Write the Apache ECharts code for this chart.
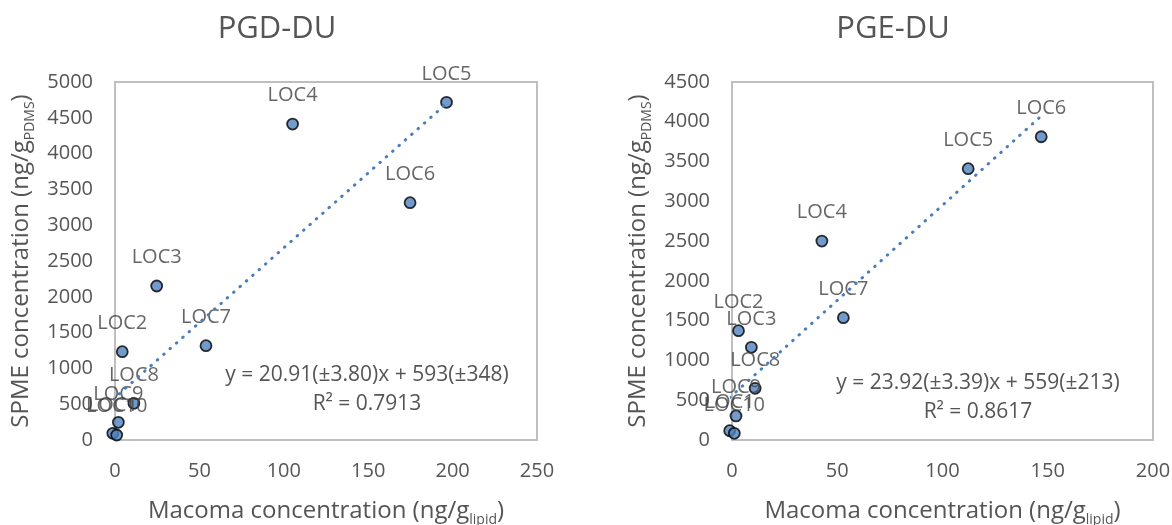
<!DOCTYPE html>
<html lang="en">
<head>
    <meta charset="UTF-8">
    <title>PGD-DU / PGE-DU</title>
    <script src="https://cdn.jsdelivr.net/npm/echarts@6/dist/echarts.min.js"></script>
    <style>
        html, body { margin: 0; padding: 0; background: #fff; }
        #chart { width: 1172px; height: 525px; }
    </style>
</head>
<body>
<div id="chart"></div>
<script type="text/javascript">
    // site labels, same order for both panels
    const locNames = ['LOC1', 'LOC2', 'LOC3', 'LOC4', 'LOC5', 'LOC6', 'LOC7', 'LOC8', 'LOC9', 'LOC10'];

    // PGD-DU: Macoma (x) vs SPME (y)
    const pgdMacoma = [-1.3, 4.3, 24.7, 105.2, 196.4, 174.8, 53.9, 11.2, 2.0, 1.0];
    const pgdSpme = [93, 1233, 2151, 4413, 4716, 3314, 1317, 512, 247, 70];
    const pgdFit = { slope: 20.91, intercept: 593 };
    const pgdEq = 'y = 20.91(±3.80)x + 593(±348)\nR² = 0.7913';

    // PGE-DU
    const pgeMacoma = [-1.1, 3.1, 9.2, 42.7, 112.2, 146.9, 52.9, 11.0, 1.9, 1.1];
    const pgeSpme = [117, 1374, 1165, 2501, 3410, 3812, 1537, 650, 302, 84];
    const pgeFit = { slope: 23.92, intercept: 559 };
    const pgeEq = 'y = 23.92(±3.39)x + 559(±213)\nR² = 0.8617';

    // axis ranges
    const pgdXMax = 250, pgdYMax = 5000;
    const pgeXMax = 200, pgeYMax = 4500;

    const FONT = '"Open Sans", "Noto Sans", sans-serif';
    const GREY = '#555555';

    let chart = echarts.init(document.getElementById('chart'));

    function points(xs, ys) {
        return xs.map((x, i) => ({ name: locNames[i], value: [x, ys[i]] }));
    }

    // trendline drawn between the smallest and largest x of the data
    function trend(xs, fit) {
        let lo = Math.min(...xs), hi = Math.max(...xs);
        return [[lo, fit.intercept + fit.slope * lo], [hi, fit.intercept + fit.slope * hi]];
    }

    const nameRich = {
        m: { fontFamily: FONT, fontSize: 24, color: GREY, lineHeight: 32 },
        s: { fontFamily: FONT, fontSize: 14, color: GREY, verticalAlign: 'bottom', lineHeight: 19 }
    };

    function xAxisFor(idx, max) {
        return {
            gridIndex: idx, type: 'value', min: 0, max: max, interval: 50,
            name: '{m|Macoma concentration (ng/g}{s|lipid}{m|)}',
            nameLocation: 'middle', nameGap: 55,
            nameTextStyle: { rich: nameRich },
            axisLine: { show: true, lineStyle: { color: '#bfbfbf', width: 2 } },
            axisTick: { show: false },
            splitLine: { show: false },
            axisLabel: { fontFamily: FONT, fontSize: 20, color: GREY, margin: 21, formatter: v => String(v) }
        };
    }

    function yAxisFor(idx, max) {
        return {
            gridIndex: idx, type: 'value', min: 0, max: max, interval: 500,
            name: '{m|SPME concentration (ng/g}{s|PDMS}{m|)}',
            nameLocation: 'middle', nameGap: 78, nameRotate: 90,
            nameTextStyle: { rich: nameRich },
            axisLine: { show: true, lineStyle: { color: '#bfbfbf', width: 2 } },
            axisTick: { show: false },
            splitLine: { show: false },
            axisLabel: { fontFamily: FONT, fontSize: 20, color: GREY, margin: 22, formatter: v => String(v) }
        };
    }

    function scatterFor(idx, xs, ys) {
        return {
            type: 'scatter', xAxisIndex: idx, yAxisIndex: idx, clip: false, z: 3,
            symbol: 'circle', symbolSize: 11,
            itemStyle: { color: '#4f81bd', borderColor: '#000', borderWidth: 1.8 },
            label: {
                show: true, position: 'top', distance: 12, formatter: '{b}',
                fontFamily: FONT, fontSize: 20, color: '#404040'
            },
            data: points(xs, ys)
        };
    }

    function trendFor(idx, xs, fit) {
        return {
            type: 'line', xAxisIndex: idx, yAxisIndex: idx, z: 4, clip: false,
            showSymbol: false, silent: true,
            lineStyle: { color: '#4a7ebb', width: 3, type: [0.5, 8], cap: 'round' },
            data: trend(xs, fit)
        };
    }

    let option = {
        animation: false,
        backgroundColor: '#fff',
        grid: [
            { left: 115, top: 82, width: 422, height: 358, outerBoundsMode: 'none', show: true, borderColor: '#bfbfbf', borderWidth: 2 },
            { left: 732, top: 82, width: 421, height: 358, outerBoundsMode: 'none', show: true, borderColor: '#bfbfbf', borderWidth: 2 }
        ],
        xAxis: [xAxisFor(0, pgdXMax), xAxisFor(1, pgeXMax)],
        yAxis: [yAxisFor(0, pgdYMax), yAxisFor(1, pgeYMax)],
        series: [
            trendFor(0, pgdMacoma, pgdFit),
            scatterFor(0, pgdMacoma, pgdSpme),
            trendFor(1, pgeMacoma, pgeFit),
            scatterFor(1, pgeMacoma, pgeSpme)
        ],
        graphic: [
            { type: 'text', x: 277, y: 29, style: { text: 'PGD-DU', font: '31px ' + FONT, fill: GREY, align: 'center', verticalAlign: 'middle' } },
            { type: 'text', x: 893, y: 29, style: { text: 'PGE-DU', font: '31px ' + FONT, fill: GREY, align: 'center', verticalAlign: 'middle' } },
            { type: 'text', x: 367, y: 390, style: { text: pgdEq, font: '21px ' + FONT, fill: GREY, align: 'center', verticalAlign: 'middle', lineHeight: 29 } },
            { type: 'text', x: 978, y: 398, style: { text: pgeEq, font: '21px ' + FONT, fill: GREY, align: 'center', verticalAlign: 'middle', lineHeight: 29 } }
        ]
    };

    chart.setOption(option);
</script>
</body>
</html>
